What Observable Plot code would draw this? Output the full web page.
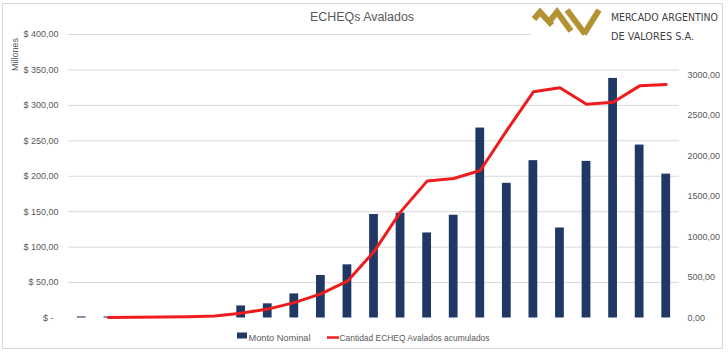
<!DOCTYPE html>
<html>
<head>
<meta charset="utf-8">
<script src="https://cdn.jsdelivr.net/npm/d3@7"></script>
<script src="https://cdn.jsdelivr.net/npm/@observablehq/plot@0.6"></script>
<style>
  html, body { margin: 0; padding: 0; background: #fff; }
  #wrap { position: relative; width: 728px; height: 354px; font-family: "Liberation Sans", Arial, sans-serif; }
  #wrap > svg.ov { position: absolute; left: 0; top: 0; pointer-events: none; }
</style>
</head>
<body>
<div id="wrap"></div>
<script>
// ---- data ----
const categories = ["P01","P02","P03","P04","P05","P06","P07","P08","P09","P10","P11","P12",
                    "P13","P14","P15","P16","P17","P18","P19","P20","P21","P22","P23"];
const montoNominal = [1.5, 1.5, 0, 0, 0, 0, 17, 20, 34, 60, 75, 146, 148, 120, 145, 268, 190, 222, 127, 221, 338, 244, 203];
const cantidadAcum = [null, 5, 10, 12, 15, 25, 60, 110, 190, 297, 454, 820, 1310, 1690, 1722, 1821, 2317, 2792, 2842, 2640, 2664, 2866, 2883];
const leftTicks = [0, 50, 100, 150, 200, 250, 300, 350, 400];
const rightTicks = [0, 500, 1000, 1500, 2000, 2500, 3000];
const leftMax = 400;
const rightMax = 3500;
const seriesNames = ["Monto Nominal", "Cantidad ECHEQ Avalados acumulados"];
const title = "ECHEQs Avalados";

// ---- build ----
const k = leftMax / rightMax;
const rows = categories.map((c, i) => ({cat: c, monto: montoNominal[i], cant: cantidadAcum[i]}));
const fmt2 = v => d3.format(".2f")(v).replace(".", ",");
const navy = "#1f3864";
const red = "#ee1c1c";
const gray = "#595959";

const chart = Plot.plot({
  width: 728,
  height: 354,
  marginLeft: 68,
  marginRight: 49,
  marginTop: 34,
  marginBottom: 36.5,
  style: {fontFamily: "Liberation Sans, Arial, sans-serif", fontSize: "9px", color: gray, background: "transparent"},
  x: {domain: categories, paddingInner: 0.67, paddingOuter: 0.335, round: false, axis: null},
  y: {domain: [0, leftMax]},
  marks: [
    Plot.ruleY(leftTicks.filter(d => d > 0), {stroke: "#d9d9d9", strokeWidth: 1}),
    Plot.axisY(leftTicks, {anchor: "left", tickSize: 0, tickPadding: 10, label: null,
      tickFormat: d => d === 0 ? "$ -\u00a0\u00a0" : "$ " + fmt2(d), fill: gray}),
    Plot.axisY(rightTicks.map(d => d * k), {anchor: "right", tickSize: 0, tickPadding: 8, label: null,
      tickFormat: d => fmt2(Math.round(d / k)), fill: gray}),
    Plot.barY(rows, {x: "cat", y: "monto", fill: navy}),
    Plot.line(rows.filter(d => d.cant != null), {x: "cat", y: d => d.cant * k, stroke: red, strokeWidth: 3, strokeLinejoin: "round", strokeLinecap: "round"})
  ]
});

const wrap = document.getElementById("wrap");
wrap.appendChild(chart);

// ---- overlay: frame, title, logo, axis title, legend ----
const ov = d3.select(wrap).append("svg").attr("class", "ov").attr("width", 728).attr("height", 354)
  .style("font-family", "Liberation Sans, Arial, sans-serif");

// logo white backing
ov.append("rect").attr("x", 531).attr("y", 4).attr("width", 190).attr("height", 42).attr("fill", "#fff");

ov.append("rect").attr("x", 2.5).attr("y", 3.5).attr("width", 720).attr("height", 345)
  .attr("fill", "none").attr("stroke", "#d9d9d9").attr("stroke-width", 1);

ov.append("text").attr("x", 362).attr("y", 21).attr("text-anchor", "middle")
  .attr("font-size", 12).attr("fill", gray).attr("textLength", 104).attr("lengthAdjust", "spacingAndGlyphs").text(title);

ov.append("text").attr("transform", "translate(17.5,54.5) rotate(-90)").attr("text-anchor", "middle")
  .attr("font-size", 9).attr("fill", gray).text("Millones");

// logo marks (gold)
const gold = "#b39233";
const lg = ov.append("g").attr("fill", "none").attr("stroke", gold).attr("stroke-width", 6).attr("stroke-linejoin", "miter");
lg.append("polyline").attr("points", "534,19 540,12 552,25");
lg.append("polyline").attr("points", "549,22 557,12 571,31");
lg.append("polyline").attr("points", "567,10 585,34");
lg.append("polyline").attr("points", "584,34 599,10");

ov.append("text").attr("x", 611).attr("y", 21).attr("font-size", 11).attr("fill", "#3f3f3f")
  .attr("font-family", "Liberation Sans Narrow, DejaVu Sans Condensed, sans-serif")
  .attr("textLength", 107).attr("lengthAdjust", "spacingAndGlyphs").text("MERCADO ARGENTINO");
ov.append("text").attr("x", 611).attr("y", 40).attr("font-size", 11).attr("fill", "#3f3f3f")
  .attr("font-family", "Liberation Sans Narrow, DejaVu Sans Condensed, sans-serif")
  .attr("textLength", 83).attr("lengthAdjust", "spacingAndGlyphs").text("DE VALORES S.A.");

// legend
ov.append("rect").attr("x", 237).attr("y", 332.5).attr("width", 10).attr("height", 6).attr("fill", navy);
ov.append("text").attr("x", 248.5).attr("y", 340.5).attr("font-size", 9).attr("fill", gray)
  .attr("textLength", 62).attr("lengthAdjust", "spacingAndGlyphs").text(seriesNames[0]);
ov.append("line").attr("x1", 327).attr("x2", 339).attr("y1", 337.5).attr("y2", 337.5).attr("stroke", red).attr("stroke-width", 2.5);
ov.append("text").attr("x", 339.5).attr("y", 340.5).attr("font-size", 9).attr("fill", gray)
  .attr("textLength", 150).attr("lengthAdjust", "spacingAndGlyphs").text(seriesNames[1]);
</script>
</body>
</html>
